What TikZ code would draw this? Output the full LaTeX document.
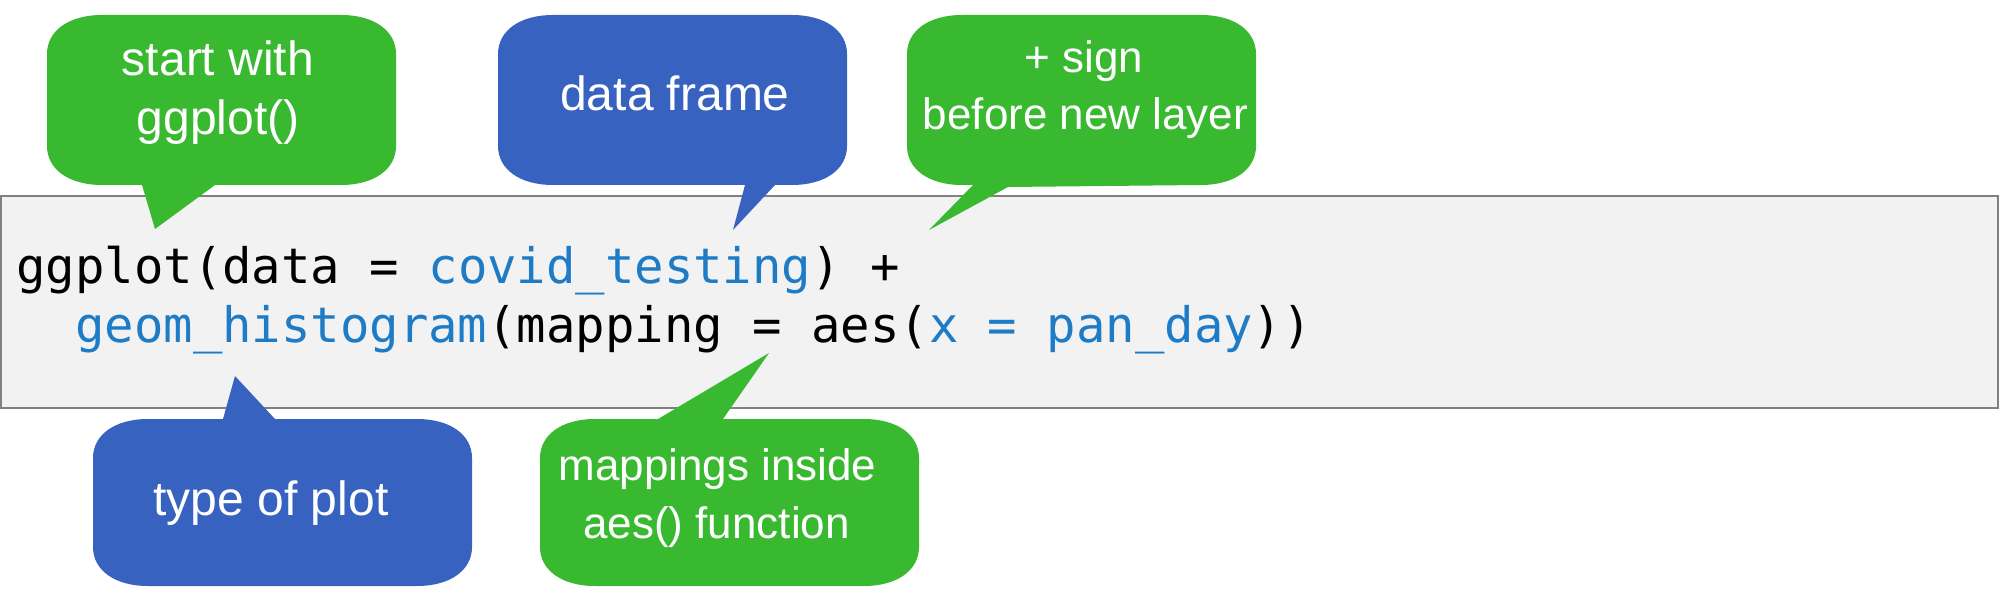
\documentclass[tikz,border=0pt]{standalone}
\usepackage{fontspec}
\setmainfont{Liberation Sans}
\newfontfamily\codefont{DejaVu Sans Mono}
\definecolor{bubgreen}{RGB}{57,185,48}
\definecolor{bubblue}{RGB}{56,98,192}
\definecolor{codeblue}{RGB}{30,123,198}
\definecolor{boxfill}{RGB}{242,242,242}
\definecolor{boxline}{RGB}{128,128,128}
\def\bRX{55}
\def\bRY{39}
\def\bKX{22}% rx*(1-0.6)
\def\bKY{15.6}% ry*(1-0.6)
% #1 colour, #2 x0, #3 y0, #4 x1, #5 y1, #6 top tail, #7 bottom tail
\newcommand\calloutfill[7]{%
  \fill[#1] (#2+\bRX,#3) #6 -- (#4-\bRX,#3)
    .. controls (#4-\bKX,#3) and (#4,#3+\bKY) .. (#4,#3+\bRY)
    -- (#4,#5-\bRY)
    .. controls (#4,#5-\bKY) and (#4-\bKX,#5) .. (#4-\bRX,#5)
    #7 -- (#2+\bRX,#5)
    .. controls (#2+\bKX,#5) and (#2,#5-\bKY) .. (#2,#5-\bRY)
    -- (#2,#3+\bRY)
    .. controls (#2,#3+\bKY) and (#2+\bKX,#3) .. (#2+\bRX,#3) -- cycle;}
\tikzset{
  bubtext/.style={text=white, inner sep=0pt, anchor=base,
    font=\fontsize{24}{29.5}\selectfont},
  bubsmall/.style={bubtext, font=\fontsize{22}{27}\selectfont},
  codeline/.style={inner sep=0pt, anchor=base west,
    font=\codefont\fontsize{24.45}{30}\selectfont},
}
\begin{document}
\begin{tikzpicture}[x=0.5pt,y=-0.5pt]
\useasboundingbox (0,0) rectangle (2000,604);
% code box
\draw[fill=boxfill, draw=boxline, line width=1pt] (1,196) rectangle (1998,408);
% code
\node[codeline] (code1) at (16,283) {ggplot(data = \textcolor{codeblue}{covid\_testing}) +};
\node[codeline] (code2) at (74.9,342) {\textcolor{codeblue}{geom\_histogram}(mapping = aes(\textcolor{codeblue}{x = pan\_day}))};
% callouts
\calloutfill{bubgreen}{47}{15}{396}{185}{}{-- (215,185) -- (155,229) -- (142,185)}
\calloutfill{bubblue}{498}{15}{847}{185}{}{-- (775,185) -- (733,230) -- (745,185)}
\calloutfill{bubgreen}{907}{15}{1256}{185}{}{-- (1008,187) -- (929,230) -- (973,185)}
\calloutfill{bubblue}{93}{419}{472}{586}{-- (223,419) -- (235,376) -- (275,419)}{}
\calloutfill{bubgreen}{540}{419}{919}{586}{-- (658,419) -- (769,353) -- (723,419)}{}
% callout texts
\node[bubtext] (t1a) at (218,76) {start with};
\node[bubtext] (t1b) at (218,135) {ggplot()};
\node[bubtext] (t2) at (675,111) {data frame};
\node[bubsmall] (t3a) at (1084,73) {+ sign};
\node[bubsmall] (t3b) at (1085.5,130) {before new layer};
\node[bubtext] (t4) at (271,515) {type of plot};
\node[bubsmall] (t5a) at (717.5,480) {mappings inside};
\node[bubsmall] (t5b) at (716.5,538) {aes() function};
\end{tikzpicture}
\end{document}
